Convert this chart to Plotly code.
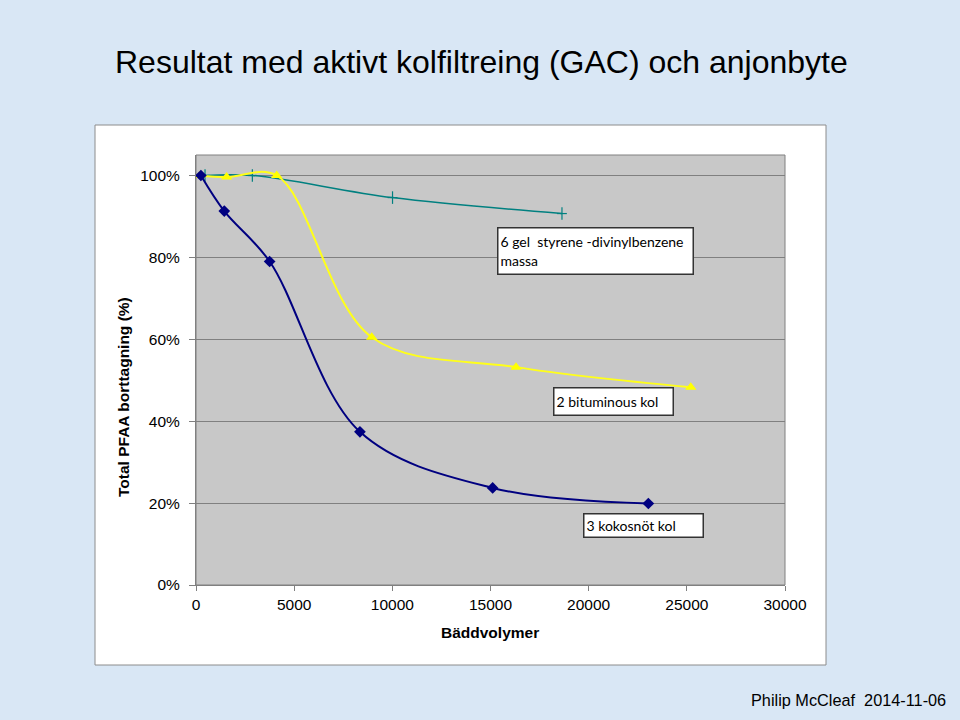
import plotly.graph_objects as go

# Data
kokos_x = [250, 1440, 3750, 8350, 15110, 23040]
kokos_y = [1.00, 0.913, 0.790, 0.374, 0.237, 0.199]

bitum_x = [200, 1560, 4110, 8950, 16300, 25200]
bitum_y = [1.00, 0.996, 1.00, 0.605, 0.532, 0.483]

gel_x = [460, 2870, 10010, 18640]
gel_y = [1.00, 1.00, 0.946, 0.907]

x_ticks = [0, 5000, 10000, 15000, 20000, 25000, 30000]
y_ticks = [0, 0.2, 0.4, 0.6, 0.8, 1.0]

title = "Resultat med aktivt kolfiltreing (GAC) och anjonbyte"
x_title = "Bäddvolymer"
y_title = "Total PFAA borttagning (%)"
footer = "Philip McCleaf  2014-11-06"
label_gel = "6 gel  styrene -divinylbenzene<br>massa"
label_bitum = "2 bituminous kol"
label_kokos = "3 kokosnöt kol"

BG = "#D9E7F5"

# plot area in pixels
L, R, T, B = 196, 785, 155, 585
W, H = 960, 720

def px(xp):
    return (xp - L) / (R - L)

def py(yp):
    return (B - yp) / (B - T)

fig = go.Figure()
fig.add_trace(go.Scatter(x=gel_x, y=gel_y, mode="lines+markers",
                         line=dict(color="#008080", width=1.5, shape="spline", smoothing=1),
                         marker=dict(symbol="line-ns", size=9, line=dict(color="#008080", width=1.2)),
                         showlegend=False))
fig.add_trace(go.Scatter(x=gel_x, y=gel_y, mode="markers",
                         marker=dict(symbol="line-ew", size=7, line=dict(color="#008080", width=1.2)),
                         showlegend=False))
fig.add_trace(go.Scatter(x=bitum_x, y=bitum_y, mode="lines+markers",
                         line=dict(color="#FFFF1A", width=2, shape="spline", smoothing=1),
                         marker=dict(symbol="triangle-up", size=10, color="#FFFF00"),
                         showlegend=False))
fig.add_trace(go.Scatter(x=kokos_x, y=kokos_y, mode="lines+markers",
                         line=dict(color="#000080", width=2, shape="spline", smoothing=1),
                         marker=dict(symbol="diamond", size=9, color="#000080"),
                         showlegend=False))

shapes = [
    # white chart box
    dict(type="rect", xref="paper", yref="paper", layer="below",
         x0=px(95), x1=px(826), y0=py(665), y1=py(125),
         fillcolor="white", line=dict(color="#8C8C8C", width=1)),
    # gray plot area
    dict(type="rect", xref="paper", yref="paper", layer="below",
         x0=0, x1=1, y0=0, y1=1,
         fillcolor="#C8C8C8", line=dict(color="#808080", width=1)),
]

annotations = [
    dict(text=title, xref="paper", yref="paper", x=px(481), y=py(62),
         xanchor="center", yanchor="middle", showarrow=False,
         font=dict(family="Liberation Sans, Arial", size=32, color="black")),
    dict(text=footer, xref="paper", yref="paper", x=px(948), y=py(700),
         xanchor="right", yanchor="middle", showarrow=False,
         font=dict(family="Liberation Sans, Arial", size=16.3, color="black")),
    dict(text="<b>" + x_title + "</b>", xref="paper", yref="paper", x=px(490), y=py(632),
         xanchor="center", yanchor="middle", showarrow=False,
         font=dict(family="Liberation Sans, Arial", size=15.5, color="black")),
    dict(text="<b>" + y_title + "</b>", xref="paper", yref="paper", x=px(123), y=py(397),
         xanchor="center", yanchor="middle", showarrow=False, textangle=-90,
         font=dict(family="Liberation Sans, Arial", size=15.5, color="black")),
    dict(text=label_gel, x=15331, y=py(227) * 1.05, xref="x", yref="y",
         xanchor="left", yanchor="top", showarrow=False, align="left",
         width=190, height=41, valign="middle",
         bgcolor="white", bordercolor="#333333", borderwidth=1.5, borderpad=2,
         font=dict(family="Lato, Carlito, Calibri", size=14, color="black")),
    dict(text=label_bitum, x=18168, y=py(387) * 1.05, xref="x", yref="y",
         xanchor="left", yanchor="top", showarrow=False, align="left",
         width=114, height=22, valign="middle",
         bgcolor="white", bordercolor="#333333", borderwidth=1.5, borderpad=2,
         font=dict(family="Lato, Carlito, Calibri", size=14, color="black")),
    dict(text=label_kokos, x=19712, y=py(513) * 1.05, xref="x", yref="y",
         xanchor="left", yanchor="top", showarrow=False, align="left",
         width=114, height=18, valign="middle",
         bgcolor="white", bordercolor="#333333", borderwidth=1.5, borderpad=2,
         font=dict(family="Lato, Carlito, Calibri", size=14, color="black")),
]

fig.update_layout(
    width=W, height=H,
    margin=dict(l=L, r=W - R, t=T, b=H - B, pad=0),
    paper_bgcolor=BG,
    plot_bgcolor="rgba(0,0,0,0)",
    shapes=shapes,
    annotations=annotations,
    xaxis=dict(range=[0, 30000], tickvals=x_ticks, ticktext=[str(v) for v in x_ticks],
               showgrid=False, zeroline=False, showline=True, linecolor="#808080", linewidth=1,
               ticks="outside", ticklen=5, tickcolor="#808080",
               tickfont=dict(family="Liberation Sans, Arial", size=15.5, color="black")),
    yaxis=dict(range=[0, 1.05], tickvals=y_ticks, tickformat=".0%",
               showgrid=True, gridcolor="#808080", gridwidth=1, zeroline=False,
               showline=True, linecolor="#808080", linewidth=1,
               ticks="outside", ticklen=6, tickcolor="#808080", ticklabelstandoff=6,
               tickfont=dict(family="Liberation Sans, Arial", size=15.5, color="black")),
)

post = ("document.body.style.margin='0';document.body.style.padding='0';"
        "document.body.style.background='" + BG + "';"
        "document.documentElement.style.background='" + BG + "';")
fig.write_html("out.html", post_script=post, config={"displayModeBar": False})
